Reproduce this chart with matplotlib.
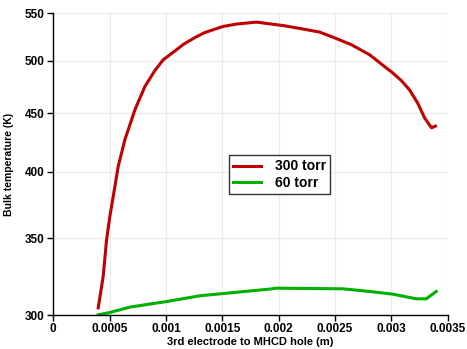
import matplotlib
matplotlib.use("Agg")
import matplotlib.pyplot as plt
from matplotlib.ticker import FixedLocator, FuncFormatter, NullLocator

plt.rcParams['font.family'] = ['Liberation Sans', 'DejaVu Sans']

# 300 torr curve
x_300 = [0.000399, 0.000443, 0.000473, 0.000502, 0.000547, 0.000576, 0.000635, 0.000665,
         0.000724, 0.000813, 0.000900, 0.000975, 0.001078, 0.001152, 0.001256, 0.001344,
         0.001506, 0.001625, 0.001802, 0.002038, 0.002186, 0.002363, 0.002496, 0.002647,
         0.002806, 0.003010, 0.003090, 0.003160, 0.003231, 0.003293, 0.003355, 0.003390]
t_300 = [304.4, 324.2, 349.0, 365.7, 388.4, 404.3, 426.6, 435.2,
         453.0, 474.8, 490.0, 500.9, 509.8, 516.5, 523.8, 529.1,
         535.6, 538.2, 540.3, 536.6, 533.5, 529.6, 523.5, 516.2,
         506.0, 488.0, 480.2, 471.6, 459.5, 445.9, 437.0, 438.5]

# 60 torr curve
x_60 = [0.000399, 0.000502, 0.000680, 0.001005, 0.001300, 0.001595, 0.001920, 0.001980,
        0.002570, 0.002806, 0.003013, 0.003220, 0.003308, 0.003397]
t_60 = [300.2, 301.6, 304.9, 308.3, 311.9, 313.9, 316.1, 316.7,
        316.3, 314.6, 312.9, 310.0, 310.0, 314.6]

xticks = [0, 0.0005, 0.001, 0.0015, 0.002, 0.0025, 0.003, 0.0035]
yticks = [300, 350, 400, 450, 500, 550]

fig = plt.figure(figsize=(4.67, 3.49), dpi=100)
ax = fig.add_axes([0.114, 0.097, 0.845, 0.865])

ax.plot(x_300, t_300, color='#c00000', lw=2.2, label='300 torr')
ax.plot(x_60, t_60, color='#00b000', lw=2.2, label='60 torr')

ax.set_yscale('log')
ax.set_ylim(300, 550)
ax.set_xlim(0, 0.0035)
ax.yaxis.set_major_locator(FixedLocator(yticks))
ax.yaxis.set_minor_locator(NullLocator())
ax.yaxis.set_major_formatter(FuncFormatter(lambda v, p: '%d' % v))
ax.set_xticks(xticks)
ax.xaxis.set_major_formatter(FuncFormatter(lambda v, p: '%g' % v))

ax.grid(True, color='#ececec', lw=0.9)
ax.set_axisbelow(True)
for s in ['top', 'right']:
    ax.spines[s].set_visible(False)
for s in ['left', 'bottom']:
    ax.spines[s].set_linewidth(1.0)
ax.tick_params(direction='out', length=4, width=1, labelsize=8.5, pad=2)
for lab in ax.get_xticklabels() + ax.get_yticklabels():
    lab.set_fontweight('bold')

ax.set_xlabel('3rd electrode to MHCD hole (m)', fontsize=8, fontweight='bold', labelpad=1)
ax.set_ylabel('Bulk temperature (K)', fontsize=7.5, fontweight='bold')
ax.yaxis.set_label_coords(-0.10, 0.5)

leg = ax.legend(loc='center', bbox_to_anchor=(0.574, 0.465),
                prop={'weight': 'bold', 'size': 10}, frameon=True, fancybox=False,
                handlelength=2.0, borderpad=0.3, labelspacing=0.2, handletextpad=1.0)
leg.get_frame().set_edgecolor('black')
leg.get_frame().set_linewidth(1.0)

fig.savefig('out.png', dpi=100)
